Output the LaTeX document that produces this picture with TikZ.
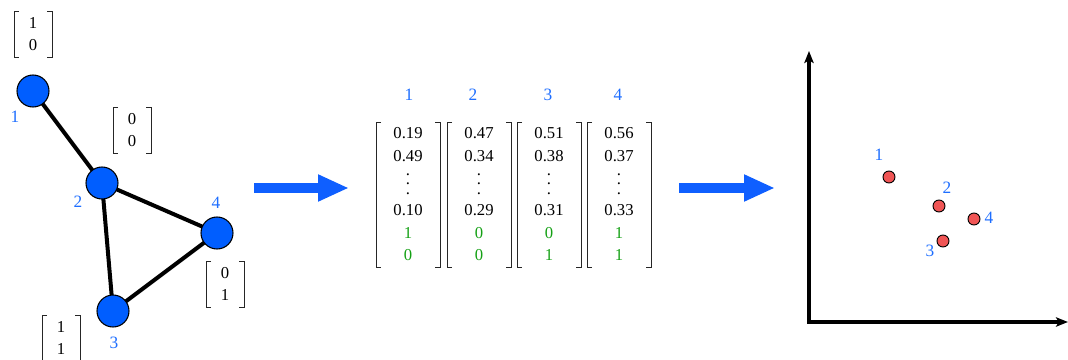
\documentclass[tikz,border=0pt]{standalone}
\usepackage{fontspec}
\setmainfont{Liberation Serif}
\usetikzlibrary{arrows.meta,backgrounds}
\definecolor{nodeblue}{RGB}{0,94,255}
\definecolor{labblue}{RGB}{30,110,255}
\definecolor{entgreen}{RGB}{20,160,20}
\definecolor{arrblue}{RGB}{15,95,255}
\definecolor{ptred}{RGB}{240,85,85}
\newcommand{\myvdots}{\vbox{\baselineskip6.75pt\lineskiplimit0pt\hbox{.}\hbox{.}\hbox{.}}}
\tikzset{
  gnode/.style={circle,draw=black,line width=0.8pt,fill=nodeblue,minimum size=32*0.75pt,inner sep=0pt},
  glab/.style={text=labblue,font=\fontsize{13pt}{15pt}\selectfont,inner sep=0pt},
  gedge/.style={line width=3pt},
  ent/.style={font=\fontsize{12.5pt}{15pt}\selectfont,inner sep=0pt},
  gent/.style={ent,text=entgreen},
  brk/.style={line width=0.7pt,draw=black!85},
  bigarrow/.style={draw=arrblue,line width=10*0.75pt,-{Triangle[length=31*0.75pt,width=25*0.75pt]}},
  axisline/.style={line width=2.8pt,{Stealth[length=9pt,width=7pt,inset=2pt]}-{Stealth[length=9pt,width=7pt,inset=2pt]}},
  pt/.style={circle,draw=black,line width=0.7pt,fill=ptred,minimum size=12*0.75pt,inner sep=0pt},
}
\begin{document}
\begin{tikzpicture}[x=0.75pt,y=-0.75pt]
\useasboundingbox (0,0) rectangle (1068,360);
% ---------- graph ----------
\node[gnode] (n1) at (33,91) {};
\node[gnode] (n2) at (102,183) {};
\node[gnode] (n3) at (113,311) {};
\node[gnode] (n4) at (217,233) {};
\begin{scope}[on background layer]
\draw[gedge] (n1.center) -- (n2.center);
\draw[gedge] (n2.center) -- (n4.center);
\draw[gedge] (n2.center) -- (n3.center);
\draw[gedge] (n3.center) -- (n4.center);
\end{scope}
\node[glab] (l1) at (15,117) {1};
\node[glab] (l2) at (78,202) {2};
\node[glab] (l3) at (114,343) {3};
\node[glab] (l4) at (216,203) {4};
% small matrices on the graph
\foreach \nm/\cx/\cy/\a/\b in {m1/33/34/1/0, m2/132/130/0/0, m4/225/284/0/1, m3/61/338/1/1}{
  \node[ent] (\nm a) at (\cx,\cy-11) {\a};
  \node[ent] (\nm b) at (\cx,\cy+11) {\b};
  \draw[brk] (\cx-14,\cy-23) -- (\cx-19,\cy-23) -- (\cx-19,\cy+23) -- (\cx-14,\cy+23);
  \draw[brk] (\cx+14,\cy-23) -- (\cx+19,\cy-23) -- (\cx+19,\cy+23) -- (\cx+14,\cy+23);
}
% ---------- arrows ----------
\coordinate (a1s) at (254,188);
\coordinate (a1e) at (349,188);
\coordinate (a2s) at (679,188);
\coordinate (a2e) at (775,188);
\draw[bigarrow] (a1s) -- (a1e);
\draw[bigarrow] (a2s) -- (a2e);
% ---------- embedding matrix ----------
\foreach \i/\x/\hx/\a/\b/\c/\g/\h in {1/408/409/0.19/0.49/0.10/1/0, 2/479/473/0.47/0.34/0.29/0/0, 3/549/548/0.51/0.38/0.31/0/1, 4/619/618/0.56/0.37/0.33/1/1}{
  \node[glab] (h\i) at (\hx,95) {\i};
  \node[ent] (c\i r1) at (\x,133) {\a};
  \node[ent] (c\i r2) at (\x,156) {\b};
  \node[ent,text height=12pt,text depth=0pt] (c\i r3) at (\x,186) {\myvdots};
  \node[ent] (c\i r4) at (\x,210) {\c};
  \node[gent] (c\i r5) at (\x,233) {\g};
  \node[gent] (c\i r6) at (\x,255) {\h};
  \draw[brk] (\x-27,122) -- (\x-32,122) -- (\x-32,267) -- (\x-27,267);
  \draw[brk] (\x+27,122) -- (\x+32,122) -- (\x+32,267) -- (\x+27,267);
}
% ---------- scatter plot ----------
\coordinate (ytop) at (809,51);
\coordinate (orig) at (809,322);
\coordinate (xend) at (1068,322);
\draw[axisline] (ytop) -- (orig) -- (xend);
\node[pt] (p1) at (889,177) {};
\node[pt] (p2) at (939,206) {};
\node[pt] (p3) at (943,241) {};
\node[pt] (p4) at (974,219) {};
\node[glab] (q1) at (879,155) {1};
\node[glab] (q2) at (947,188) {2};
\node[glab] (q3) at (930,251) {3};
\node[glab] (q4) at (989,218) {4};
\end{tikzpicture}
\end{document}
